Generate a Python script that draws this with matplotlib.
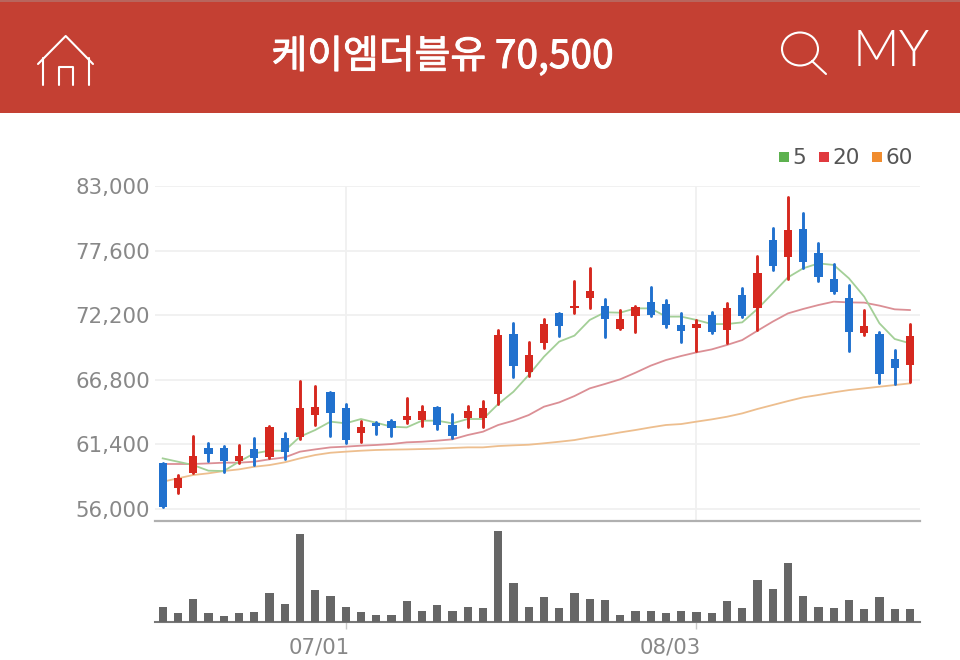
import glob
import matplotlib
matplotlib.use("Agg")
import matplotlib.pyplot as plt
from matplotlib import font_manager as fm
from matplotlib import patheffects as pe
from matplotlib.lines import Line2D
from matplotlib.patches import Rectangle, Ellipse
from matplotlib.transforms import ScaledTranslation

title = "케이엠더블유 70,500"
price_ticks = [56000, 61400, 66800, 72200, 77600, 83000]
date_pos = [12, 35]
date_labels = ["07/01", "08/03"]

opens = [59870,57780,58980,61070,61070,60040,60980,60310,61900,62040,
         63830,65800,64440,62380,63210,63380,63440,63440,64550,63020,
         63580,63580,65580,70630,67480,69900,72350,72830,73610,73000,
         71040,72160,73330,73130,71380,71160,72210,70960,73890,72770,
         78490,77090,79400,77370,75220,73660,70740,70630,68510,68030]
closes = [56190,58560,60430,60570,60040,60430,60230,62880,60790,64410,
          64550,63990,61760,62820,62930,62740,63770,64190,63020,62100,
          64190,64470,70540,67950,68870,71460,71300,73000,74250,71850,
          71880,72860,72220,71380,70900,71460,70770,72770,72130,75700,
          76310,79320,76670,75420,74170,70820,71300,67280,67810,70500]
highs = [59870,58840,62100,61540,61290,61350,61900,62960,62320,66720,
         66280,65800,64770,63380,63300,63440,65250,64610,64550,63910,
         64610,65050,70960,71520,69990,71850,72410,75030,76120,73550,
         72630,72970,74580,73470,72350,71800,72440,73190,74440,77150,
         79460,82110,80770,78210,76480,74700,72630,70820,69290,71460]
lows = [56190,57300,58980,60040,59120,59810,59670,60230,60150,61820,
        63020,62130,61490,61620,62270,62130,63160,62930,62660,61900,
        62880,62880,64770,67060,67110,69430,70460,72350,72830,70350,
        71040,70820,72160,71180,69990,69230,70680,69850,72080,70960,
        75980,75200,76170,75090,74080,69230,70540,66500,66420,66640]
ma5 = [60230,59950,59670,59200,59170,59950,60650,60870,60870,62040,
       62600,63300,63160,63520,63210,62880,62820,63380,63380,63160,
       63520,63520,64770,65800,67200,68730,69990,70490,71800,72440,
       72410,72770,72770,72080,72080,71800,71460,71460,71600,72720,
       74030,75360,76120,76530,76400,75280,73750,71520,70210,69850]
ma20 = [59760,59760,59760,59810,59870,59870,59950,60150,60310,60790,
        60980,61150,61210,61290,61350,61430,61570,61620,61710,61820,
        62180,62460,63020,63380,63850,64550,64910,65440,66080,66450,
        66840,67390,67980,68450,68790,69090,69340,69710,70120,70900,
        71660,72350,72720,73050,73330,73270,73250,73000,72690,72630]
ma60 = [58280,58560,58840,58980,59170,59310,59530,59670,59900,60230,
        60510,60700,60790,60870,60930,60960,60980,61010,61040,61100,
        61150,61150,61260,61320,61370,61490,61620,61760,61990,62180,
        62400,62600,62820,63020,63100,63300,63490,63710,63990,64360,
        64690,65020,65330,65530,65750,65940,66080,66220,66360,66500]
volume = [46,26,70,26,18,26,30,86,54,264,96,78,46,30,22,22,62,34,50,34,
          46,42,272,118,46,74,42,86,70,66,22,34,34,26,34,30,26,62,42,126,
          98,176,78,46,42,66,38,74,38,38]

W, H = 960, 660
RED, BLUE = "#D6281F", "#2171CE"
GRID = "#F0F0F0"
TXT = "#888888"
plt.rcParams["font.family"] = ["DejaVu Sans"]
fig = plt.figure(figsize=(W / 100, H / 100), dpi=100, facecolor="white")

def box(l, t, r, b):
    return [l / W, 1 - b / H, (r - l) / W, (b - t) / H]

x = list(range(len(closes)))
ax = fig.add_axes(box(155, 186, 920, 521))
ax.set_xlim(-0.505, 49.66)
ax.set_ylim(54994, 83000)
ax.set_yticks(price_ticks)
ax.set_yticklabels([f"{v:,}" for v in price_ticks], fontsize=15.3, color=TXT)
ax.set_xticks(date_pos)
ax.tick_params(axis="both", length=0, labelbottom=False)
ax.tick_params(axis="y", pad=3.5)
ax.grid(True, color=GRID, lw=1.3, zorder=0)
for s in ["top", "left", "right"]:
    ax.spines[s].set_visible(False)
ax.spines["bottom"].set_color("#B0B0B0")
ax.spines["bottom"].set_linewidth(1.6)

ax.plot(x, ma60, color="#EDBE8E", lw=1.3, zorder=2, solid_joinstyle="round")
ax.plot(x, ma20, color="#DB8F95", lw=1.3, zorder=2, solid_joinstyle="round")
ax.plot(x, ma5, color="#A3CF97", lw=1.3, zorder=2, solid_joinstyle="round")

colors = [RED if c >= o else BLUE for o, c in zip(opens, closes)]
ax.vlines(x, lows, highs, colors=colors, lw=2.1, zorder=3, capstyle="round")
ax.bar(x, [abs(c - o) for o, c in zip(opens, closes)],
       bottom=[min(o, c) for o, c in zip(opens, closes)],
       width=0.54, color=colors, zorder=3)

handles = [Line2D([], [], ls="", marker="s", ms=6.5, color=c, mew=0)
           for c in ["#5DB14F", "#E0393E", "#F08C2E"]]
ax.legend(handles, ["5", "20", "60"], ncols=3, loc="center right", frameon=False,
          bbox_to_anchor=(0.9905, 1.083), fontsize=15.5, labelcolor="#555555",
          handlelength=0.7, handletextpad=0.05, columnspacing=0.45,
          borderpad=0, borderaxespad=0)

av = fig.add_axes(box(155, 526, 920, 622))
av.set_xlim(-0.505, 49.66)
av.set_ylim(0, 288)
av.patch.set_alpha(0)
av.bar(x, volume, width=0.54, color="#666666", zorder=3)
av.set_yticks([])
av.set_xticks(date_pos)
av.set_xticklabels(date_labels, fontsize=15.3, color=TXT)
av.tick_params(axis="x", length=5, color="#C8C8C8", width=1, pad=6)
for lab in av.get_xticklabels():
    lab.set_transform(lab.get_transform() + ScaledTranslation(-0.26, 0, fig.dpi_scale_trans))
for s in ["top", "left", "right"]:
    av.spines[s].set_visible(False)
av.spines["bottom"].set_color("#777777")
av.spines["bottom"].set_linewidth(1.5)

ov = fig.add_axes([0, 0, 1, 1], zorder=10)
ov.set_xlim(0, W)
ov.set_ylim(H, 0)
ov.axis("off")
ov.add_patch(Rectangle((0, 0), W, 113, color="#C44033", lw=0))
ov.add_patch(Rectangle((0, 0), W, 2, color="#B8655D", lw=0))
ic = dict(color="white", lw=1.5, solid_capstyle="round", solid_joinstyle="round")
ov.plot([38, 65.7, 93], [64, 36, 64], **ic)
ov.plot([42.5, 42.5], [58, 85], **ic)
ov.plot([88.5, 88.5], [58, 85], **ic)
ov.plot([59, 59, 72.5, 72.5], [85, 67, 67, 85], **ic)
ov.add_patch(Ellipse((800, 49), 36, 33, fill=False, ec="white", lw=1.5))
ov.plot([812, 826], [61, 74], **ic)
t = ov.text(442.5, 57, title, color="white", fontsize=28, ha="center", va="center",
            family=["Noto Sans CJK KR", "DejaVu Sans"])
t.set_path_effects([pe.withStroke(linewidth=0.7, foreground="white")])
light = [f for f in glob.glob("/usr/share/fonts/**/Lato-Light.*", recursive=True)]
my_font = fm.FontProperties(fname=light[0], size=37) if light else fm.FontProperties(family="Open Sans", weight="light", size=36)
ov.text(891, 52.5, "MY", color="white", ha="center", va="center", fontproperties=my_font)

fig.savefig("out.png", dpi=100, facecolor="white")
